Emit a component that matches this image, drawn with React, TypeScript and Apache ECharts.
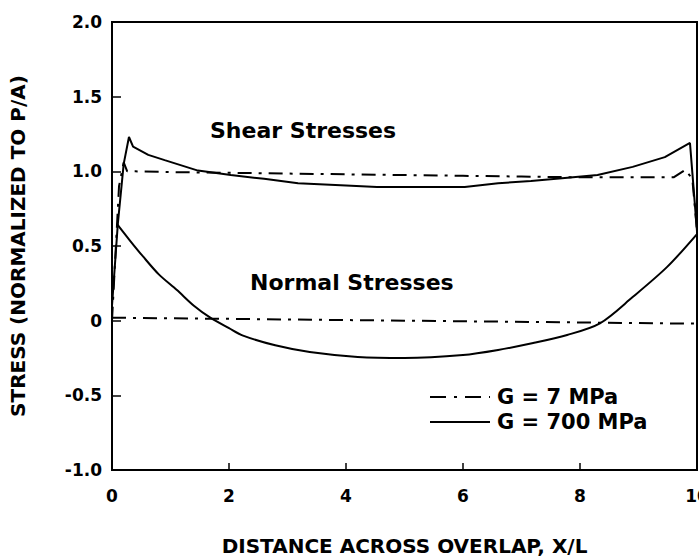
import React, { useEffect, useRef } from "react";
import * as echarts from "echarts";

const xTicks = [0, 2, 4, 6, 8, 10];
const yTicks = [-1.0, -0.5, 0, 0.5, 1.0, 1.5, 2.0];

const shear700X = [0, 0.1, 0.2, 0.29, 0.36, 0.62, 0.9, 1.47, 2.03, 2.6, 3.18, 4.0, 4.53, 5.06, 6.03, 6.6, 7.16, 7.74, 8.3, 8.9, 9.45, 9.88, 10];
const shear700Y = [0.1, 0.65, 1.05, 1.23, 1.165, 1.11, 1.075, 1.005, 0.975, 0.95, 0.92, 0.905, 0.895, 0.895, 0.895, 0.92, 0.935, 0.955, 0.975, 1.03, 1.095, 1.19, 0.6];

const shear7X = [0, 0.12, 0.2, 0.26, 0.4, 1, 2, 3, 4, 5, 6, 7, 8, 9, 9.6, 9.8, 9.92, 10];
const shear7Y = [0, 0.9, 1.06, 1.0, 1.0, 0.995, 0.99, 0.985, 0.98, 0.975, 0.97, 0.965, 0.96, 0.96, 0.96, 1.01, 0.95, 0.6];

const normal700X = [0.08, 0.3, 0.53, 0.8, 1.11, 1.4, 1.68, 2.0, 2.24, 2.79, 3.38, 4.2, 5.0, 6.0, 6.6, 7.2, 7.78, 8.34, 8.9, 9.49, 10];
const normal700Y = [0.65, 0.54, 0.43, 0.31, 0.205, 0.1, 0.02, -0.05, -0.1, -0.165, -0.21, -0.243, -0.25, -0.23, -0.196, -0.15, -0.096, -0.018, 0.158, 0.36, 0.58];

const normal7X = [0, 10];
const normal7Y = [0.02, -0.02];

const pairs = (xs: number[], ys: number[]) => xs.map((x, i) => [x, ys[i]]);

const FONT = "DejaVu Sans";
const DASHDOT = [14, 7, 3, 7];

export default function App() {
  const ref = useRef<HTMLDivElement>(null);
  useEffect(() => {
    if (!ref.current) return;
    const chart = echarts.init(ref.current, null, { renderer: "svg" });
    chart.setOption({
      animation: false,
      backgroundColor: "#fff",
      grid: {
        left: 112,
        right: 2,
        top: 22,
        bottom: 89,
        outerBoundsMode: "none",
        containLabel: false,
        show: true,
        borderColor: "#000",
        borderWidth: 2,
      },
      xAxis: {
        type: "value",
        min: xTicks[0],
        max: xTicks[xTicks.length - 1],
        interval: 2,
        name: "DISTANCE ACROSS OVERLAP, X/L",
        nameLocation: "middle",
        nameGap: 66,
        nameTextStyle: { fontFamily: FONT, fontWeight: "bold", fontSize: 20, color: "#000" },
        axisLine: { onZero: false, lineStyle: { color: "#000", width: 2 } },
        axisTick: { inside: true, length: 7, lineStyle: { color: "#000", width: 1.5 } },
        axisLabel: { fontFamily: FONT, fontWeight: "bold", fontSize: 17, color: "#000", margin: 17 },
        splitLine: { show: false },
      },
      yAxis: {
        type: "value",
        min: yTicks[0],
        max: yTicks[yTicks.length - 1],
        interval: 0.5,
        name: "STRESS (NORMALIZED TO P/A)",
        nameLocation: "middle",
        nameGap: 84,
        nameTextStyle: { fontFamily: FONT, fontWeight: "bold", fontSize: 20, color: "#000" },
        axisLine: { onZero: false, lineStyle: { color: "#000", width: 2 } },
        axisTick: { inside: true, length: 9, lineStyle: { color: "#000", width: 1.5 } },
        axisLabel: {
          fontFamily: FONT,
          fontWeight: "bold",
          fontSize: 17,
          color: "#000",
          margin: 10,
          formatter: (v: number) => (v === 0 ? "0" : v.toFixed(1)),
        },
        splitLine: { show: false },
      },
      series: [
        {
          name: "Shear G = 700 MPa",
          type: "line",
          data: pairs(shear700X, shear700Y),
          showSymbol: false,
          lineStyle: { color: "#000", width: 2 },
        },
        {
          name: "Shear G = 7 MPa",
          type: "line",
          data: pairs(shear7X, shear7Y),
          showSymbol: false,
          lineStyle: { color: "#000", width: 2, type: DASHDOT },
        },
        {
          name: "Normal G = 700 MPa",
          type: "line",
          data: pairs(normal700X, normal700Y),
          showSymbol: false,
          smooth: 0.3,
          lineStyle: { color: "#000", width: 2 },
        },
        {
          name: "Normal G = 7 MPa",
          type: "line",
          data: pairs(normal7X, normal7Y),
          showSymbol: false,
          lineStyle: { color: "#000", width: 2, type: DASHDOT },
        },
      ],
      graphic: [
        {
          type: "text",
          left: 210,
          top: 119,
          style: { text: "Shear Stresses", font: `bold 22px '${FONT}'`, fill: "#000" },
        },
        {
          type: "text",
          left: 250,
          top: 271,
          style: { text: "Normal Stresses", font: `bold 22px '${FONT}'`, fill: "#000" },
        },
        {
          type: "line",
          shape: { x1: 430, y1: 397, x2: 490, y2: 397 },
          style: { stroke: "#000", lineWidth: 2, lineDash: [16, 8, 3, 8] },
        },
        {
          type: "text",
          left: 497,
          top: 386,
          style: { text: "G = 7 MPa", font: `bold 21px '${FONT}'`, fill: "#000" },
        },
        {
          type: "line",
          shape: { x1: 430, y1: 422, x2: 490, y2: 422 },
          style: { stroke: "#000", lineWidth: 2 },
        },
        {
          type: "text",
          left: 497,
          top: 411,
          style: { text: "G = 700 MPa", font: `bold 21px '${FONT}'`, fill: "#000" },
        },
      ],
    });
    return () => chart.dispose();
  }, []);
  return (
    <div
      ref={ref}
      style={{ position: "fixed", left: 0, top: 0, width: 699, height: 559 }}
    />
  );
}
